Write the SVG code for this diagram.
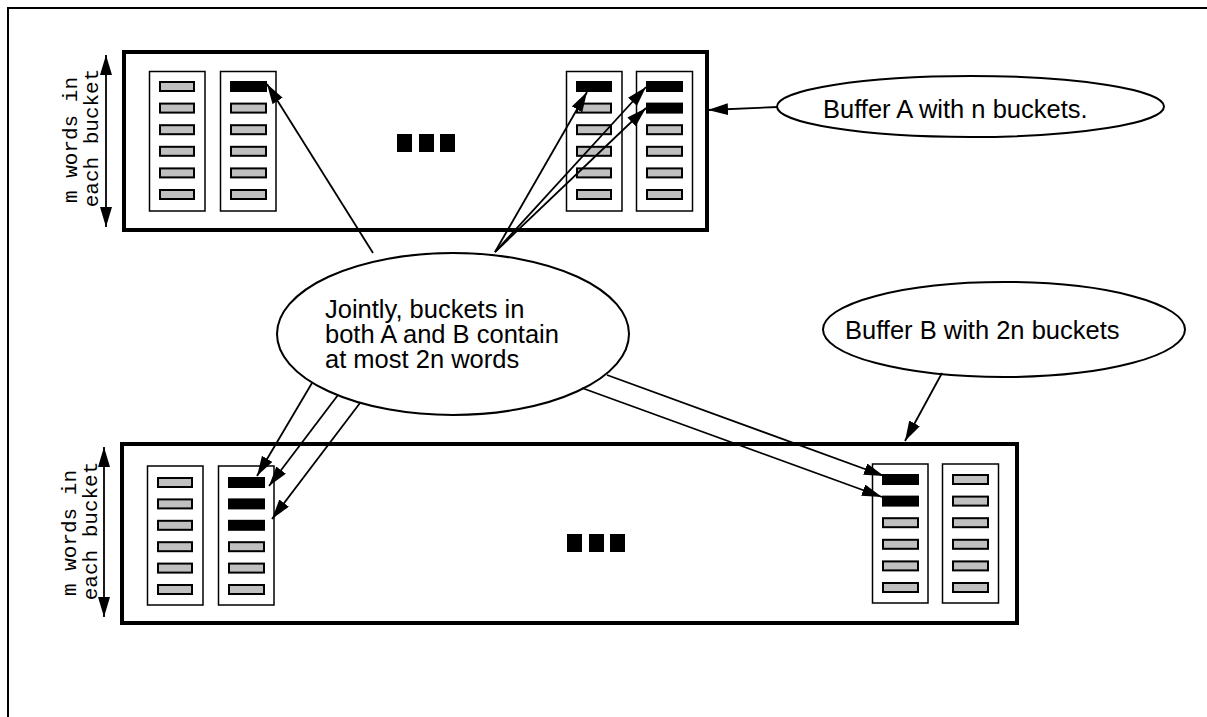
<svg xmlns="http://www.w3.org/2000/svg" width="1207" height="717" viewBox="0 0 1207 717">
<style>
.frame{fill:none;stroke:#000;stroke-width:2}
.buf{fill:#fff;stroke:#000;stroke-width:4}
.bkt{fill:#fff;stroke:#000;stroke-width:1.5}
.w{fill:#c0c0c0;stroke:#000;stroke-width:2}
.wb{fill:#000;stroke:#000;stroke-width:2}
.dot{fill:#000}
.lbl{fill:#fff;stroke:#000;stroke-width:2}
.t{font-family:"Liberation Sans",Arial,sans-serif;font-size:25.5px;fill:#000}
.m{font-family:"Liberation Mono","Courier New",monospace;font-size:21px;fill:#000;text-anchor:middle}
.c{fill:none;stroke:#000;stroke-width:1.8}
</style>
<defs>
<marker id="ah" markerUnits="userSpaceOnUse" markerWidth="22" markerHeight="14" refX="20" refY="6" orient="auto-start-reverse">
<path d="M0,0 L20,6 L0,12 z" fill="#000"/>
</marker>
</defs>
<path class="frame" d="M8,717 V8 H1207"/>

<g id="bufferA">
<rect class="buf" x="124" y="52" width="583" height="178"/>
<g id="bucketA1">
<rect class="bkt" x="149.5" y="71.5" width="55.5" height="139.5"/>
<rect class="w" x="160" y="82" width="34" height="9"/>
<rect class="w" x="160" y="103.6" width="34" height="9"/>
<rect class="w" x="160" y="125.2" width="34" height="9"/>
<rect class="w" x="160" y="146.8" width="34" height="9"/>
<rect class="w" x="160" y="168.4" width="34" height="9"/>
<rect class="w" x="160" y="190" width="34" height="9"/>
</g>
<g id="bucketA2">
<rect class="bkt" x="220.5" y="71.5" width="55.5" height="139.5"/>
<rect class="wb" x="231" y="82" width="35" height="9"/>
<rect class="w" x="231" y="103.6" width="35" height="9"/>
<rect class="w" x="231" y="125.2" width="35" height="9"/>
<rect class="w" x="231" y="146.8" width="35" height="9"/>
<rect class="w" x="231" y="168.4" width="35" height="9"/>
<rect class="w" x="231" y="190" width="35" height="9"/>
</g>
<g id="dotsA">
<rect class="dot" x="397" y="134" width="15" height="18"/>
<rect class="dot" x="419" y="134" width="15" height="18"/>
<rect class="dot" x="440" y="134" width="15" height="18"/>
</g>
<g id="bucketA3">
<rect class="bkt" x="566.5" y="71.5" width="55.5" height="139.5"/>
<rect class="wb" x="577" y="82" width="34" height="9"/>
<rect class="w" x="577" y="103.6" width="34" height="9"/>
<rect class="w" x="577" y="125.2" width="34" height="9"/>
<rect class="w" x="577" y="146.8" width="34" height="9"/>
<rect class="w" x="577" y="168.4" width="34" height="9"/>
<rect class="w" x="577" y="190" width="34" height="9"/>
</g>
<g id="bucketA4">
<rect class="bkt" x="636.5" y="71.5" width="56" height="139.5"/>
<rect class="wb" x="647" y="82" width="35" height="9"/>
<rect class="wb" x="647" y="103.6" width="35" height="9"/>
<rect class="w" x="647" y="125.2" width="35" height="9"/>
<rect class="w" x="647" y="146.8" width="35" height="9"/>
<rect class="w" x="647" y="168.4" width="35" height="9"/>
<rect class="w" x="647" y="190" width="35" height="9"/>
</g>
</g>

<g id="dimA">
<line class="c" x1="106" y1="55" x2="106" y2="227" marker-start="url(#ah)" marker-end="url(#ah)"/>
<text class="m" transform="translate(77,140) rotate(-90)">m words in</text>
<text class="m" transform="translate(98,138) rotate(-90)">each bucket</text>
</g>

<g id="bufferB">
<rect class="buf" x="122" y="444" width="895" height="179"/>
<g id="bucketB1">
<rect class="bkt" x="147.5" y="466" width="55.5" height="139"/>
<rect class="w" x="158" y="478" width="34" height="9"/>
<rect class="w" x="158" y="499.4" width="34" height="9"/>
<rect class="w" x="158" y="520.8" width="34" height="9"/>
<rect class="w" x="158" y="542.2" width="34" height="9"/>
<rect class="w" x="158" y="563.6" width="34" height="9"/>
<rect class="w" x="158" y="585" width="34" height="9"/>
</g>
<g id="bucketB2">
<rect class="bkt" x="218.5" y="466" width="55.5" height="139"/>
<rect class="wb" x="229" y="478" width="35" height="9"/>
<rect class="wb" x="229" y="499.4" width="35" height="9"/>
<rect class="wb" x="229" y="520.8" width="35" height="9"/>
<rect class="w" x="229" y="542.2" width="35" height="9"/>
<rect class="w" x="229" y="563.6" width="35" height="9"/>
<rect class="w" x="229" y="585" width="35" height="9"/>
</g>
<g id="dotsB">
<rect class="dot" x="567" y="534" width="15" height="18"/>
<rect class="dot" x="589" y="534" width="15" height="18"/>
<rect class="dot" x="610" y="534" width="15" height="18"/>
</g>
<g id="bucketB3">
<rect class="bkt" x="872.5" y="464" width="55.5" height="139"/>
<rect class="wb" x="883" y="475" width="35" height="9"/>
<rect class="wb" x="883" y="496.6" width="35" height="9"/>
<rect class="w" x="883" y="518.2" width="35" height="9"/>
<rect class="w" x="883" y="539.8" width="35" height="9"/>
<rect class="w" x="883" y="561.4" width="35" height="9"/>
<rect class="w" x="883" y="583" width="35" height="9"/>
</g>
<g id="bucketB4">
<rect class="bkt" x="942.5" y="464" width="56" height="139"/>
<rect class="w" x="953" y="475" width="35" height="9"/>
<rect class="w" x="953" y="496.6" width="35" height="9"/>
<rect class="w" x="953" y="518.2" width="35" height="9"/>
<rect class="w" x="953" y="539.8" width="35" height="9"/>
<rect class="w" x="953" y="561.4" width="35" height="9"/>
<rect class="w" x="953" y="583" width="35" height="9"/>
</g>
</g>

<g id="dimB">
<line class="c" x1="104" y1="447" x2="104" y2="617" marker-start="url(#ah)" marker-end="url(#ah)"/>
<text class="m" transform="translate(76,533) rotate(-90)">m words in</text>
<text class="m" transform="translate(97,531) rotate(-90)">each bucket</text>
</g>

<g id="labelA">
<ellipse class="lbl" cx="970.5" cy="106.5" rx="193.5" ry="30.5"/>
<text class="t" x="823" y="118">Buffer A with n buckets.</text>
</g>

<g id="labelB">
<ellipse class="lbl" cx="1004" cy="329.5" rx="181" ry="47.5"/>
<text class="t" x="845" y="339">Buffer B with 2n buckets</text>
</g>

<g id="joint">
<ellipse class="lbl" cx="453" cy="334" rx="176" ry="81"/>
<text class="t" x="325" y="318">Jointly, buckets in</text>
<text class="t" x="325" y="343">both A and B contain</text>
<text class="t" x="325" y="368">at most 2n words</text>
</g>

<g id="connectors">
<line class="c" x1="373" y1="253" x2="267" y2="84" marker-end="url(#ah)"/>
<line class="c" x1="495" y1="252" x2="587" y2="92" marker-end="url(#ah)"/>
<line class="c" x1="495" y1="252" x2="646" y2="87" marker-end="url(#ah)"/>
<line class="c" x1="495" y1="252" x2="646" y2="108" marker-end="url(#ah)"/>
<line class="c" x1="778" y1="107" x2="708" y2="110" marker-end="url(#ah)"/>
<line class="c" x1="942" y1="373" x2="905" y2="441" marker-end="url(#ah)"/>
<line class="c" x1="312" y1="383" x2="257" y2="476" marker-end="url(#ah)"/>
<line class="c" x1="338" y1="395" x2="269" y2="486" marker-end="url(#ah)"/>
<line class="c" x1="360" y1="403" x2="272" y2="519" marker-end="url(#ah)"/>
<line class="c" x1="607" y1="375" x2="884" y2="476" marker-end="url(#ah)"/>
<line class="c" x1="582" y1="388" x2="882" y2="497" marker-end="url(#ah)"/>
</g>
</svg>
